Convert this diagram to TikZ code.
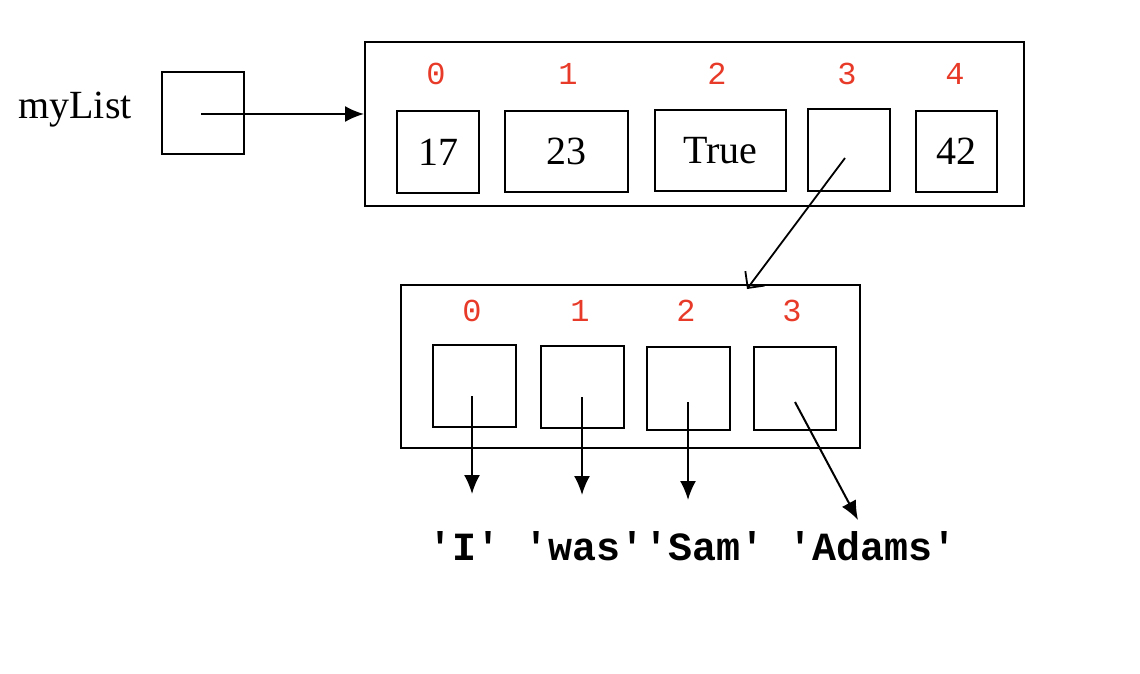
\documentclass[tikz,border=0pt]{standalone}
\usepackage{fontspec}
\setmainfont{Liberation Serif}
\newfontfamily\codefont{Liberation Mono}
\usetikzlibrary{arrows.meta}
\definecolor{idxred}{RGB}{232,58,40}
\begin{document}
\begin{tikzpicture}[x=1pt,y=-1pt,
  cell/.style={draw,line width=2pt,inner sep=0pt,font=\fontsize{40}{42}\selectfont},
  frame/.style={draw,line width=2pt,inner sep=0pt},
  idx/.style={text=idxred,font=\codefont\fontsize{32}{34}\selectfont,inner sep=0pt},
  ptr/.style={line width=2pt,-{Latex[length=19pt,width=16pt]}},
  ptropen/.style={line width=1.8pt,-{Straight Barb[length=12pt,width=24pt,line width=1.8pt]}}]
\useasboundingbox (0,0) rectangle (1140,674);

% variable and its reference box
\node[font=\fontsize{40}{42}\selectfont,inner sep=0pt] (name) at (75,110) {myList};
\node[frame,minimum width=82pt,minimum height=82pt] (var) at (203,113) {};

% outer list
\node[frame,minimum width=659pt,minimum height=164pt] (outer) at (694.5,124) {};
\node[cell,minimum width=82pt,minimum height=82pt] (a0) at (438,152) {17};
\node[cell,minimum width=123pt,minimum height=81pt] (a1) at (566.5,151.5) {23};
\node[cell,minimum width=131pt,minimum height=81pt] (a2) at (720.5,150.5) {True};
\node[cell,minimum width=82pt,minimum height=82pt] (a3) at (849,150) {};
\node[cell,minimum width=81pt,minimum height=81pt] (a4) at (956.5,151.5) {42};
\node[idx] (i0) at (436,74) {0};
\node[idx] (i1) at (568,74) {1};
\node[idx] (i2) at (717,74) {2};
\node[idx] (i3) at (847,74) {3};
\node[idx] (i4) at (955,74) {4};

% nested list
\node[frame,minimum width=459pt,minimum height=163pt] (inner) at (630.5,366.5) {};
\node[cell,minimum width=83pt,minimum height=82pt] (b0) at (474.5,386) {};
\node[cell,minimum width=83pt,minimum height=82pt] (b1) at (582.5,387) {};
\node[cell,minimum width=83pt,minimum height=83pt] (b2) at (688.5,388.5) {};
\node[cell,minimum width=82pt,minimum height=83pt] (b3) at (795,388.5) {};
\node[idx] (j0) at (472,311) {0};
\node[idx] (j1) at (580,311) {1};
\node[idx] (j2) at (686,311) {2};
\node[idx] (j3) at (792,311) {3};

% strings referenced by the nested list
\node[font=\codefont\bfseries\fontsize{40}{42}\selectfont,inner sep=0pt,anchor=base west] (strs) at (428,560) {'I' 'was''Sam' 'Adams'};

% reference arrows
\coordinate (s0) at (201,114);
\draw[ptr] (s0) -- (outer.west |- s0);

\coordinate (p3) at (845,158);
\coordinate (q3) at (747,289);
\draw[ptropen] (p3) -- (q3);

\coordinate (p4) at (472,396);
\coordinate (p5) at (582,397);
\coordinate (p6) at (688,402);
\coordinate (p7) at (795,402);
\coordinate (e0) at (472,494);
\coordinate (e1) at (582,495);
\coordinate (e2) at (688,500);
\coordinate (e3) at (858,520);
\draw[ptr] (p4) -- (e0);
\draw[ptr] (p5) -- (e1);
\draw[ptr] (p6) -- (e2);
\draw[ptr] (p7) -- (e3);
\end{tikzpicture}
\end{document}
